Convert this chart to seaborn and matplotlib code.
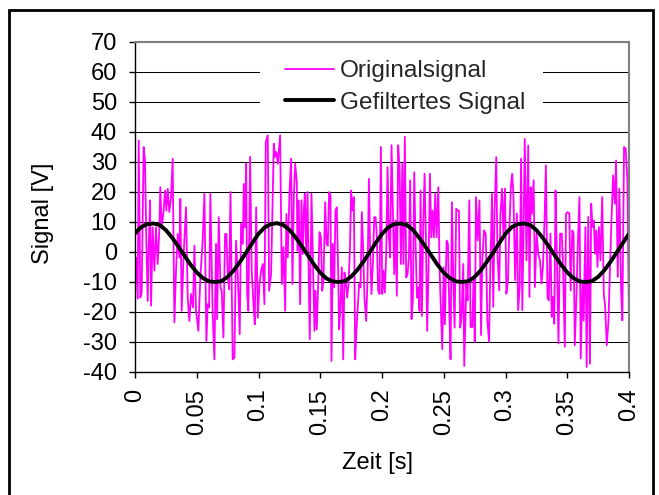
import numpy as np
import pandas as pd
import matplotlib
matplotlib.use("Agg")
import matplotlib.pyplot as plt
from matplotlib.patches import Rectangle
import seaborn as sns

# ---------------- data ----------------
# Original (noisy) signal: time in ms, value in V
time_ms = [
    0.0, 0.8, 2.2, 3.0, 4.3, 5.4, 7.0, 8.1, 9.2, 10.3,
    11.1, 12.2, 13.0, 14.3, 15.7, 17.0, 18.4, 19.7, 20.5, 21.6,
    23.2, 24.3, 25.4, 26.5, 27.8, 29.2, 30.5, 31.9, 33.2, 34.6,
    35.9, 36.7, 37.8, 39.4, 41.3, 42.7, 44.0, 45.4, 47.0, 48.1,
    49.4, 51.3, 52.9, 54.8, 56.2, 57.8, 58.9, 60.0, 61.0, 62.9,
    64.3, 65.6, 66.5, 67.8, 69.2, 70.2, 71.6, 72.9, 74.0, 75.1,
    76.2, 77.3, 79.1, 80.5, 81.8, 83.2, 84.8, 85.9, 87.3, 88.1,
    89.1, 90.0, 90.8, 91.8, 93.2, 94.5, 95.9, 97.0, 98.1, 99.4,
    100.8, 102.1, 103.5, 104.8, 105.9, 107.5, 108.6, 110.2, 112.4, 113.5,
    114.5, 115.6, 117.5, 118.9, 120.2, 121.6, 122.6, 123.7, 125.1, 126.4,
    127.5, 128.6, 129.7,
    131.0, 131.5, 132.6, 133.7, 134.8, 135.9, 136.7, 137.5, 138.6, 139.7,
    140.5, 141.5, 142.9, 144.2, 145.3, 146.1, 147.2, 148.3, 149.4, 150.5,
    151.6, 152.6, 154.0, 155.1, 156.1, 157.2, 158.3, 159.1, 160.2, 161.3,
    162.3, 163.4, 164.5, 165.3, 166.4, 167.5, 168.6, 169.6, 170.7, 171.8,
    172.9, 174.0, 175.0, 176.1, 177.2, 178.3, 179.4, 180.4, 181.5, 182.6,
    183.7, 184.8, 185.8, 187.2, 188.3, 189.4, 190.4, 191.5, 192.6, 193.7,
    194.8, 195.8, 196.9, 198.0, 199.1, 200.2, 201.2, 202.3, 203.4, 204.5,
    205.6, 206.6, 207.7, 208.8, 209.9, 211.0, 212.0, 213.1, 214.2, 215.3,
    216.4, 217.4, 218.5, 219.6, 220.7, 221.8, 222.8, 223.9, 225.0, 226.1,
    227.2, 228.3, 229.3, 230.4, 231.2, 232.3, 233.4, 234.5, 235.5, 236.6,
    237.7, 238.8, 239.9, 240.9, 242.0, 243.1, 244.2, 245.6, 246.6, 247.7,
    248.8, 249.9, 250.9, 252.3, 253.4, 254.5, 255.5, 256.6, 257.7, 258.8,
    260.1, 261.2, 262.3, 263.3, 264.4, 265.8, 266.6,
    268.3, 269.3, 270.7, 271.7, 273.1, 274.1, 275.1, 276.1, 277.5, 278.9,
    280.2, 281.2, 282.6, 284.0, 285.3, 286.7, 287.7, 289.1, 290.1, 291.1,
    292.5, 293.5, 294.9, 295.9, 297.2, 298.3, 299.6, 300.7, 302.0, 303.0,
    304.4, 305.4, 306.4, 307.8, 309.2, 310.2, 311.5, 312.6, 313.6, 314.6,
    315.6, 317.0, 318.4, 319.4, 320.4, 321.4, 322.8, 323.8, 325.2, 326.5,
    327.9, 329.2, 330.3, 331.6, 332.7, 334.0, 335.0, 336.4, 337.4, 338.4,
    339.5, 340.5, 341.5, 342.9, 344.2, 345.6, 346.6, 348.0, 349.0, 350.4,
    351.7, 352.7, 354.1, 355.1, 356.1, 357.5, 358.5, 359.9, 360.9, 362.3,
    363.3, 364.7, 365.7, 367.0, 368.4, 369.4, 370.4, 371.5, 372.5, 373.5,
    374.5, 375.6, 376.9, 378.3, 379.6, 380.7, 382.0, 383.4, 384.7, 385.8,
    387.1, 388.5, 389.5, 390.9, 392.2, 393.6, 394.6, 396.0, 397.3, 398.7,
    400.0,
]
signal_v = [
    -6.2, -1.8, -15.6, 37.2, -15.2, -13.5, 35.0, 30.5, 3.2, -16.3,
    1.6, 17.2, -17.9, 8.2, -6.2, 8.2, -4.0, 7.1, 21.6, 8.2,
    13.8, 20.5, 13.8, 21.1, 13.3, 18.3, 31.1, -23.5, -6.2, 6.0,
    -1.8, 17.7, -19.6, -0.7, 14.9, -15.2, -23.0, -14.0, -18.5, 2.1,
    -19.6, -26.3, -8.5, 3.8, 19.4, -29.7, -17.4, -18.5, 19.4, -20.7,
    -35.8, 2.7, -22.4, 11.6, -11.8, -12.9, -28.5, 6.0, 6.0, -7.4,
    -12.4, 20.0, -35.8, -35.2, 3.8, -7.4, -27.4, 9.4, 2.7, 22.7,
    8.2, 29.4, -14.0, -19.6, 31.7, -6.2, -17.4, -24.1, 14.9, -21.9,
    -10.7, -6.2, -4.0, -17.4, 36.7, 38.9, -12.9, -7.4, 36.1, 31.7,
    33.3, 29.4, 38.9, -10.7, 1.6, -19.6, 12.7, -1.8, 20.0, 31.1,
    -10.7, 18.3, 29.4,
    23.3, 0.4, 17.2, -17.4, 17.2, -0.7, 13.8, 19.4, -0.7, 20.0,
    -4.0, -29.1, 19.4, -4.6, -26.3, -12.9, -25.8, -10.7, 6.6, 4.9,
    -12.9, -9.6, 16.6, 2.7, 2.1, 20.0, 18.8, -36.3, 2.7, -11.8,
    13.8, 14.9, -6.2, -25.8, -17.4, -5.1, -35.8, -6.8, -10.1, -15.2,
    -10.7, 0.4, 20.5, 13.8, 18.3, -35.8, -25.2, -18.5, -10.7, -11.8,
    13.3, 0.4, -15.2, -23.0, -8.5, 24.4, 0.4, -14.0, -4.0, 11.6,
    11.6, 4.9, -12.9, -14.0, 35.0, -14.0, -6.2, -13.5, -0.7, 28.3,
    4.9, -1.8, 35.6, 13.8, -7.4, 10.5, -14.6, 35.6, 28.3, -4.0,
    29.4, -4.0, 38.4, -8.5, -7.4, -1.8, 23.9, -22.4, -15.7, 26.6,
    2.7, -15.2, -11.8, -19.6, 20.5, -21.3, 9.4, 26.1, 4.9, -26.3,
    -5.1, 26.1, 4.9, 13.8, 4.9, 19.4, 4.9, 21.6, -5.1, -19.6,
    -32.4, -5.1, -24.1, 3.8, 2.7, -19.6, -35.8, 16.6, -8.5, -25.2,
    14.4, 13.8, 13.8, -25.2, -21.9, -4.0, -38.0,
    -10.5, -16.1, 17.2, -25.0, -25.0, -8.9, -30.0, 18.3, 3.9, 17.2,
    -27.7, -2.8, 7.2, 6.1, -22.8, -30.0, -5.0, 19.4, -18.3, 12.8,
    31.6, -0.6, -12.8, 12.8, 21.1, 6.1, 21.1, -13.9, -9.4, 6.1,
    22.2, 26.1, 19.4, -9.4, 12.8, -19.4, -11.7, 31.1, -19.4, 7.2,
    37.7, -2.8, 35.5, -15.0, 21.6, 12.8, 23.9, -11.7, 6.1, -0.6,
    -2.8, -10.5, -5.0, 10.5, 28.9, -15.0, -16.1, 6.1, -21.6, -15.0,
    -23.9, 20.5, 0.6, -30.5, 6.1, 6.1, -5.0, -31.6, 12.8, 13.3,
    12.8, -12.8, 7.2, 6.1, -31.1, -13.9, 1.7, 18.3, -35.5, -10.5,
    -22.8, 8.3, -38.3, 11.7, -37.2, 16.1, 8.3, 10.5, -0.6, 7.2,
    -5.0, 8.3, -2.8, 18.3, -13.9, -18.3, -31.1, -22.8, -3.9, 10.5,
    25.5, 16.1, 30.5, -8.3, 21.1, -12.8, -22.8, 35.0, 34.4, 23.9,
    -22.8,
]

# Filtered signal, read every 5 ms
filt_time_ms = [
    0, 5, 10, 15, 20, 25, 30, 35, 40, 45, 50, 55, 60, 65, 70, 75, 80, 85, 90, 95,
    100, 105, 110, 115, 120, 125, 130, 135, 140, 145, 150, 155, 160, 165, 170, 175, 180, 185, 190, 195,
    200, 205, 210, 215, 220, 225, 230, 235, 240, 245, 250, 255, 260, 265, 270, 275, 280, 285, 290, 295,
    300, 305, 310, 315, 320, 325, 330, 335, 340, 345, 350, 355, 360, 365, 370, 375, 380, 385, 390, 395,
    400,
]
filt_v = [
    6.2, 8.3, 9.3, 9.5, 9.0, 7.3, 4.8, 1.9, -1.2, -4.2, -6.8, -8.7, -9.8, -10.0, -9.7, -8.3, -6.1, -3.3, -0.2, 3.0,
    6.1, 8.2, 9.3, 9.6, 9.0, 7.4, 4.9, 2.0, -1.1, -4.2, -6.9, -8.8, -9.8, -10.0, -9.7, -8.2, -6.0, -3.2, -0.1, 3.1,
    6.0, 8.2, 9.3, 9.5, 9.0, 7.4, 4.8, 1.9, -1.2, -4.3, -6.9, -8.7, -9.8, -10.0, -9.7, -8.3, -6.1, -3.2, -0.2, 3.0,
    6.1, 8.3, 9.3, 9.5, 9.0, 7.3, 4.8, 1.9, -1.2, -4.2, -6.8, -8.7, -9.8, -10.0, -9.7, -8.3, -6.1, -3.3, -0.2, 3.0,
    6.1,
]

y_ticks = [-40, -30, -20, -10, 0, 10, 20, 30, 40, 50, 60, 70]
x_ticks = [0, 0.05, 0.1, 0.15, 0.2, 0.25, 0.3, 0.35, 0.4]
x_tick_labels = ["0", "0.05", "0.1", "0.15", "0.2", "0.25", "0.3", "0.35", "0.4"]

label_orig = "Originalsignal"
label_filt = "Gefiltertes Signal"

assert len(time_ms) == len(signal_v)
assert len(filt_time_ms) == len(filt_v)

df_orig = pd.DataFrame({"t": np.array(time_ms) / 1000.0, "v": signal_v})
df_filt = pd.DataFrame({"t": np.array(filt_time_ms) / 1000.0, "v": filt_v})

# ---------------- style ----------------
sns.set_theme(style="white")
plt.rcParams["font.family"] = ["Liberation Sans", "DejaVu Sans"]

FS = 17
W, H = 659, 495
fig = plt.figure(figsize=(W / 100, H / 100), dpi=100)
L, R, T, B = 135, 629, 42, 372
ax = fig.add_axes([L / W, 1 - B / H, (R - L) / W, (B - T) / H])

sns.lineplot(data=df_orig, x="t", y="v", ax=ax, color="#FF00FF", linewidth=1.3,
             estimator=None, sort=False, label=label_orig)
sns.lineplot(data=df_filt, x="t", y="v", ax=ax, color="black", linewidth=2.8,
             estimator=None, sort=False, label=label_filt)

ax.set_xlim(0, 0.4)
ax.set_ylim(-40, 70)
ax.set_yticks(y_ticks)
ax.set_yticklabels([str(v) for v in y_ticks])
ax.set_xticks(x_ticks)
ax.set_xticklabels(x_tick_labels, rotation=90)

ax.set_axisbelow(True)
ax.yaxis.grid(True, color="black", linewidth=0.75)
ax.xaxis.grid(False)

for side in ["left", "bottom"]:
    ax.spines[side].set_color("black")
    ax.spines[side].set_linewidth(1.0)
for side in ["top", "right"]:
    ax.spines[side].set_color("#808080")
    ax.spines[side].set_linewidth(1.5)

ax.tick_params(axis="both", direction="out", length=4, width=1, color="black",
               labelsize=FS, bottom=True, left=True, labelcolor="black")
ax.tick_params(axis="y", pad=9)
ax.tick_params(axis="x", pad=8)

ax.set_xlabel("Zeit [s]", fontsize=FS, color="black")
ax.set_ylabel("Signal [V]", fontsize=FS, color="black")
ax.xaxis.set_label_coords((378 - L) / (R - L), (B - 452) / (B - T))
ax.yaxis.set_label_coords((54 - L) / (R - L), (B - 213) / (B - T))

# white legend background
ax.add_patch(Rectangle(((260 - L) / (R - L), (B - 122) / (B - T)),
                       (543 - 260) / (R - L), (122 - 50) / (B - T),
                       transform=ax.transAxes, facecolor="white", edgecolor="none",
                       zorder=2.2))
leg = ax.legend(loc="upper left", bbox_to_anchor=((285 - L) / (R - L), (B - 60) / (B - T)),
                frameon=False, fontsize=17.6, handlelength=2.0, handletextpad=0.25,
                labelspacing=0.38, borderpad=0, borderaxespad=0)
leg.set_zorder(5)

# figure border
fig.patches.append(Rectangle((9 / W, -0.05), (653 - 9) / W, 1.05 - 10 / H,
                             transform=fig.transFigure, fill=False,
                             edgecolor="black", linewidth=2.0))

fig.savefig("out.png", dpi=100)
